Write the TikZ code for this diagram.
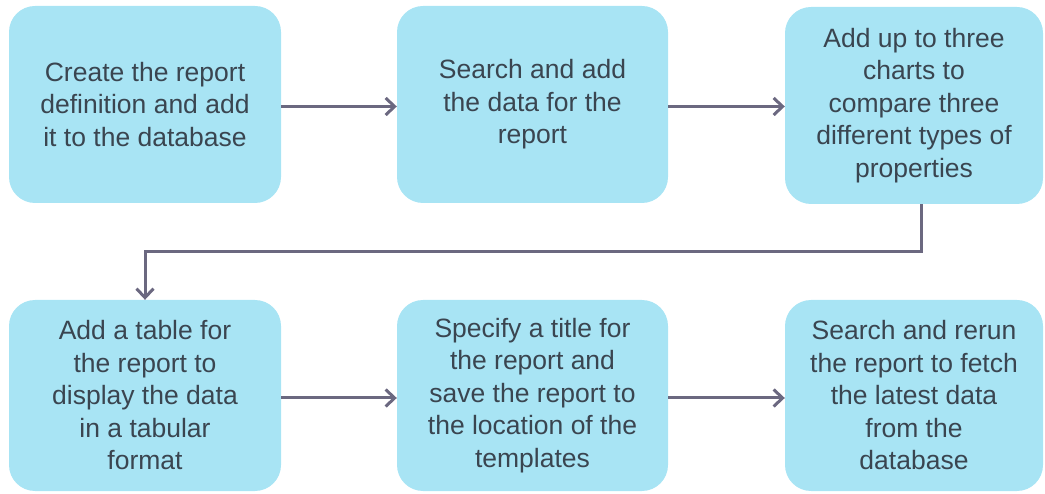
\documentclass[tikz,border=0pt]{standalone}
\usepackage{fontspec}
\setmainfont{Liberation Sans}
\usetikzlibrary{arrows.meta}
\definecolor{boxfill}{HTML}{A8E4F4}
\definecolor{linecol}{HTML}{6B6880}
\definecolor{txtcol}{HTML}{3A4550}
\tikzset{
  stepbox/.style={rectangle, rounded corners=26pt, fill=boxfill, draw=none,
    minimum width=#1, align=center, text=txtcol,
    font=\fontsize{26.5pt}{32.5pt}\selectfont, inner sep=0pt},
  flow/.style={draw=linecol, line width=3pt,
    -{Straight Barb[length=9pt,width=17pt,line width=3pt]}}
}
\begin{document}
\begin{tikzpicture}[x=1pt,y=-1pt]
\useasboundingbox (0,0) rectangle (1045,494);
\node[stepbox=272pt, minimum height=197pt] (B1) at (145,104.5) {Create the report\\definition and add\\it to the database};
\node[stepbox=271pt, minimum height=197pt] (B2) at (532.5,104.5) {Search and add\\the data for the\\report};
\node[stepbox=258pt, minimum height=197pt] (B3) at (914,105.5) {Add up to three\\charts to\\compare three\\different types of\\properties};
\node[stepbox=272pt, minimum height=191pt] (B4) at (145,395.5) {Add a table for\\the report to\\display the data\\in a tabular\\format};
\node[stepbox=271pt, minimum height=191pt] (B5) at (532.5,395.5) {Specify a title for\\the report and\\save the report to\\the location of the\\templates};
\node[stepbox=258pt, minimum height=191pt] (B6) at (914,395.5) {Search and rerun\\the report to fetch\\the latest data\\from the\\database};
\draw[flow] ([yshift=-2pt]B1.east) -- ([yshift=-2pt]B2.west);
\draw[flow] ([yshift=-2pt]B2.east) -- ([yshift=-2pt]B2.east -| B3.west);
\draw[flow] ([xshift=7pt]B3.south) -- ++(0,47) -| (B4.north);
\draw[flow] ([yshift=-2.5pt]B4.east) -- ([yshift=-2.5pt]B5.west);
\draw[flow] ([yshift=-2.5pt]B5.east) -- ([yshift=-2.5pt]B6.west);
\end{tikzpicture}
\end{document}
